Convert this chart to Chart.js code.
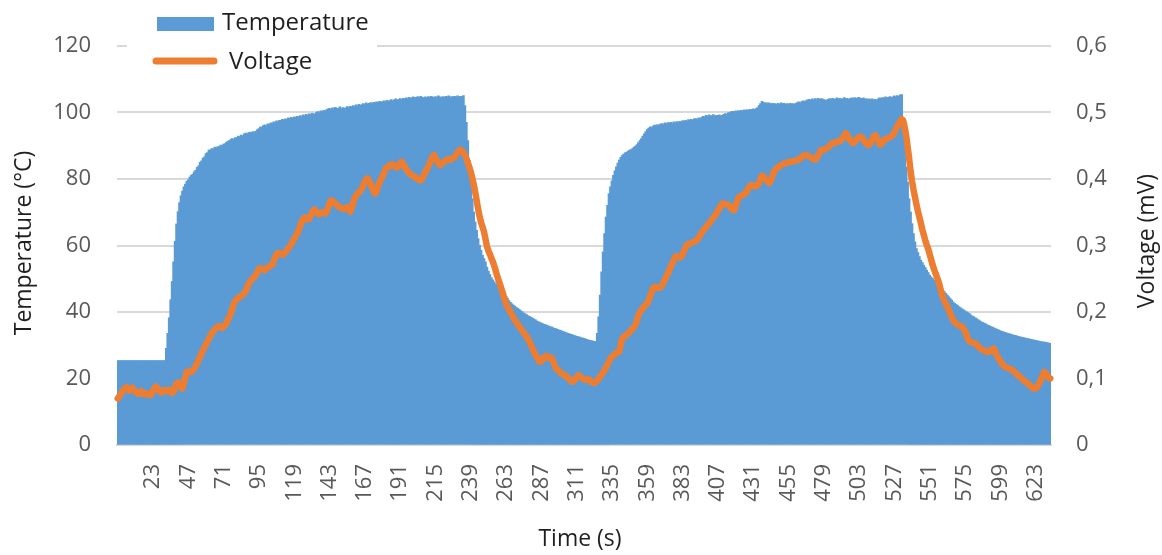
<!DOCTYPE html>
<html>
<head>
<meta charset="utf-8">
<title>Temperature and Voltage vs Time</title>
<script src="https://cdn.jsdelivr.net/npm/chart.js@4/dist/chart.umd.min.js"></script>
<style>
  html, body { margin: 0; padding: 0; background: #ffffff; }
  #wrap { width: 1162px; height: 555px; position: relative; }
</style>
</head>
<body>
<div id="wrap"><canvas id="chart" width="1162" height="555"></canvas></div>
<script>
// Temperature (°C), one reading per second
const temperature = [
  25.3,25.3,25.3,25.3,25.3,25.3,25.3,25.3,25.3,25.3,25.3,25.3,25.3,25.3,25.3,25.3,25.3,25.3,25.3,25.3,
  25.3,25.3,25.3,25.3,25.3,25.3,25.3,25.3,25.3,25.3,25.3,25.3,25.3,29.0,33.5,38.2,43.6,49.1,55.0,61.2,
  66.4,70.1,72.8,74.9,76.3,77.6,78.4,79.3,79.7,80.5,81.0,81.4,82.1,82.5,83.4,83.9,84.9,85.4,86.2,86.6,
  87.6,87.9,88.6,88.7,89.1,89.0,89.5,89.3,89.7,89.6,90.1,89.9,90.4,90.6,91.0,91.3,91.5,91.9,92.1,91.8,
  92.4,92.3,92.8,92.6,93.1,92.9,93.5,93.7,93.4,93.9,94.0,93.8,94.2,94.0,94.3,94.8,95.1,95.6,95.4,96.0,
  96.2,95.9,96.5,96.3,96.8,96.6,97.1,96.9,97.4,97.2,97.6,97.5,97.9,97.6,98.0,97.8,98.3,98.1,98.5,98.2,
  98.6,98.4,98.8,98.6,99.0,98.7,99.2,98.9,99.4,99.1,99.5,99.3,99.7,99.6,99.4,99.9,100.2,99.8,100.4,100.1,
  100.6,100.3,100.8,101.0,101.2,100.8,101.3,101.0,101.5,101.1,101.2,101.6,101.0,101.4,101.2,101.3,101.7,101.4,101.8,101.6,
  102.0,101.7,102.2,101.9,102.4,102.1,102.3,102.6,102.2,102.8,102.4,102.7,102.9,102.5,103.0,102.8,103.1,102.9,103.3,103.0,
  103.2,103.4,103.1,103.6,103.3,103.5,103.8,103.4,103.7,104.0,103.6,103.9,104.1,103.8,104.2,104.0,104.3,104.1,104.5,104.2,
  104.4,104.6,104.3,104.5,104.7,104.4,104.8,104.5,104.3,104.6,104.4,104.7,104.5,104.8,104.6,104.3,104.7,104.5,104.9,104.6,
  104.4,104.7,104.5,104.8,104.6,104.9,104.5,104.7,104.6,104.8,104.5,104.9,104.6,104.8,104.7,105.0,102.0,97.0,91.5,85.5,
  79.5,74.0,70.0,67.0,64.5,62.0,60.0,58.5,57.0,56.0,55.0,53.4,52.2,51.2,50.3,49.6,49.0,48.4,47.8,47.2,
  46.6,46.1,45.6,45.1,44.6,44.1,43.4,42.8,42.4,42.0,41.7,41.3,41.0,40.7,40.3,40.0,39.6,39.4,39.1,38.8,
  38.6,38.3,38.1,37.8,37.6,37.2,37.0,36.8,36.6,36.4,36.2,36.1,35.9,35.7,35.5,35.4,35.2,35.0,34.9,34.7,
  34.5,34.4,34.2,34.0,33.9,33.7,33.5,33.4,33.2,33.1,32.9,32.8,32.6,32.5,32.4,32.2,32.1,32.0,31.8,31.7,
  31.5,31.4,31.3,31.2,31.1,31.0,33.5,38.5,45.0,52.0,58.0,63.5,68.5,72.0,75.5,77.6,79.4,81.0,82.4,83.6,
  84.7,85.6,86.4,87.0,87.4,87.8,88.0,88.3,88.6,88.8,89.1,89.5,89.8,90.3,90.9,91.5,92.1,92.8,93.5,94.2,
  94.8,95.2,95.6,95.4,95.8,96.1,95.9,96.3,96.0,96.4,96.6,96.3,96.8,96.5,96.9,96.7,97.0,96.6,97.1,96.8,
  97.2,96.9,97.3,97.0,97.5,97.2,97.6,97.3,97.8,97.5,97.9,97.6,98.0,98.1,97.8,98.3,98.0,98.5,98.8,98.6,
  99.1,98.8,99.2,98.9,99.0,99.3,98.8,99.1,99.0,99.2,98.9,99.1,99.4,99.6,99.3,99.8,99.9,100.1,100.3,100.0,
  100.4,100.2,100.5,100.3,100.6,100.4,100.7,100.5,100.8,100.6,100.9,100.7,101.0,100.8,101.1,101.4,102.0,102.6,103.3,103.0,
  102.6,102.9,102.5,102.8,102.4,102.7,102.5,102.6,102.3,102.7,102.4,102.8,102.5,102.7,102.4,102.6,102.3,102.7,102.5,102.6,
  102.4,102.7,102.9,103.1,102.8,103.2,103.4,103.1,103.5,103.7,103.9,103.6,104.0,103.7,104.1,103.8,104.2,103.9,104.1,104.0,
  103.8,103.6,103.7,103.9,104.1,103.8,104.2,103.9,104.0,104.3,104.0,104.2,103.9,104.1,104.4,104.0,104.2,103.8,104.1,104.3,
  104.0,104.4,104.1,104.3,104.5,104.2,104.0,104.3,103.9,104.1,103.8,104.0,103.7,104.0,103.6,103.9,103.6,104.0,104.3,104.1,
  104.4,104.2,104.6,104.3,104.5,104.7,104.4,104.6,104.9,104.6,105.0,104.8,105.2,105.3,95.5,90.0,83.5,79.0,74.0,70.0,
  66.5,63.5,61.0,59.0,57.8,56.6,55.5,54.8,54.0,53.3,52.5,51.8,51.0,50.5,50.0,49.5,49.0,48.5,48.0,47.5,
  47.0,46.5,46.0,45.5,45.0,44.5,44.0,43.5,42.9,42.5,42.2,41.9,41.5,41.2,40.9,40.6,40.3,40.0,39.7,39.5,
  39.0,38.7,38.5,38.2,37.9,37.6,37.3,37.0,36.8,36.6,36.4,36.1,35.9,35.7,35.5,35.3,35.1,34.9,34.7,34.5,
  34.3,34.1,34.0,33.8,33.7,33.5,33.4,33.3,33.1,33.0,32.9,32.8,32.6,32.5,32.4,32.3,32.2,32.1,32.0,31.9,
  31.8,31.7,31.6,31.5,31.4,31.3,31.2,31.1,31.0,30.9,30.9,30.8,30.7,30.6,30.5
];

// Voltage (mV), one reading per second
const voltage = [
  0.070,0.073,0.076,0.080,0.083,0.086,0.087,0.085,0.082,0.084,0.086,0.083,0.080,0.078,0.077,0.079,0.081,0.078,0.076,0.078,
  0.077,0.076,0.075,0.077,0.082,0.086,0.088,0.085,0.082,0.080,0.079,0.081,0.083,0.081,0.082,0.083,0.080,0.078,0.080,0.087,
  0.093,0.094,0.090,0.087,0.085,0.094,0.103,0.110,0.109,0.111,0.110,0.112,0.115,0.119,0.123,0.128,0.133,0.139,0.142,0.147,
  0.151,0.156,0.160,0.164,0.168,0.171,0.174,0.176,0.178,0.179,0.177,0.176,0.178,0.180,0.184,0.189,0.193,0.199,0.206,0.213,
  0.217,0.219,0.221,0.223,0.224,0.226,0.228,0.232,0.237,0.242,0.246,0.248,0.251,0.253,0.256,0.260,0.265,0.266,0.265,0.264,
  0.263,0.265,0.267,0.268,0.270,0.271,0.276,0.282,0.287,0.289,0.288,0.287,0.286,0.288,0.290,0.293,0.296,0.299,0.302,0.306,
  0.310,0.314,0.318,0.323,0.329,0.335,0.340,0.342,0.341,0.339,0.340,0.344,0.349,0.353,0.354,0.351,0.348,0.347,0.349,0.350,
  0.349,0.348,0.351,0.357,0.363,0.368,0.367,0.365,0.363,0.361,0.359,0.357,0.356,0.356,0.355,0.357,0.358,0.355,0.351,0.356,
  0.364,0.371,0.375,0.378,0.380,0.382,0.386,0.391,0.396,0.400,0.401,0.397,0.392,0.386,0.381,0.378,0.382,0.389,0.395,0.400,
  0.404,0.409,0.415,0.417,0.419,0.421,0.420,0.422,0.420,0.418,0.417,0.420,0.424,0.426,0.423,0.419,0.415,0.412,0.409,0.407,
  0.406,0.404,0.403,0.402,0.400,0.398,0.398,0.401,0.405,0.410,0.414,0.418,0.423,0.429,0.434,0.436,0.432,0.428,0.424,0.421,
  0.422,0.424,0.426,0.428,0.429,0.430,0.429,0.430,0.431,0.433,0.437,0.440,0.443,0.444,0.442,0.440,0.436,0.431,0.425,0.418,
  0.411,0.402,0.392,0.381,0.368,0.355,0.344,0.335,0.328,0.321,0.310,0.299,0.292,0.287,0.281,0.276,0.269,0.262,0.254,0.247,
  0.241,0.234,0.227,0.219,0.212,0.208,0.204,0.200,0.196,0.191,0.188,0.185,0.181,0.178,0.175,0.172,0.169,0.166,0.163,0.160,
  0.155,0.150,0.145,0.140,0.136,0.132,0.128,0.125,0.126,0.129,0.132,0.134,0.133,0.131,0.132,0.131,0.126,0.120,0.115,0.113,
  0.111,0.109,0.107,0.106,0.105,0.103,0.101,0.099,0.097,0.095,0.096,0.099,0.102,0.105,0.104,0.102,0.100,0.099,0.098,0.098,
  0.099,0.097,0.095,0.094,0.093,0.095,0.097,0.100,0.103,0.106,0.109,0.113,0.117,0.121,0.126,0.130,0.133,0.135,0.137,0.138,
  0.139,0.141,0.152,0.160,0.162,0.164,0.166,0.168,0.170,0.172,0.175,0.178,0.181,0.188,0.195,0.200,0.203,0.206,0.208,0.211,
  0.213,0.218,0.224,0.230,0.236,0.238,0.237,0.236,0.236,0.237,0.240,0.244,0.249,0.254,0.258,0.263,0.268,0.273,0.278,0.283,
  0.284,0.283,0.282,0.283,0.287,0.292,0.297,0.301,0.302,0.303,0.304,0.305,0.306,0.307,0.309,0.312,0.316,0.320,0.322,0.325,
  0.328,0.331,0.333,0.336,0.339,0.342,0.345,0.348,0.352,0.356,0.360,0.363,0.363,0.362,0.362,0.361,0.359,0.356,0.354,0.353,
  0.359,0.366,0.372,0.374,0.375,0.376,0.377,0.379,0.383,0.387,0.390,0.391,0.390,0.389,0.389,0.391,0.395,0.400,0.405,0.404,
  0.401,0.398,0.396,0.394,0.398,0.404,0.410,0.414,0.416,0.418,0.419,0.421,0.422,0.423,0.424,0.425,0.425,0.426,0.426,0.427,
  0.427,0.428,0.429,0.429,0.431,0.433,0.435,0.436,0.436,0.435,0.434,0.433,0.431,0.430,0.429,0.431,0.435,0.439,0.443,0.444,
  0.444,0.445,0.446,0.448,0.450,0.452,0.454,0.455,0.455,0.456,0.456,0.457,0.459,0.462,0.466,0.469,0.466,0.462,0.458,0.455,
  0.454,0.456,0.459,0.461,0.463,0.464,0.462,0.459,0.456,0.453,0.451,0.452,0.455,0.460,0.464,0.466,0.463,0.458,0.452,0.452,
  0.455,0.458,0.460,0.461,0.462,0.463,0.464,0.466,0.470,0.475,0.480,0.483,0.487,0.490,0.488,0.478,0.466,0.449,0.432,0.412,
  0.397,0.384,0.373,0.362,0.352,0.343,0.334,0.324,0.316,0.308,0.301,0.295,0.287,0.279,0.271,0.264,0.258,0.252,0.246,0.238,
  0.229,0.222,0.217,0.212,0.208,0.203,0.198,0.192,0.188,0.185,0.183,0.181,0.180,0.179,0.178,0.175,0.171,0.166,0.160,0.156,
  0.155,0.154,0.153,0.153,0.151,0.149,0.146,0.144,0.143,0.142,0.141,0.140,0.140,0.141,0.143,0.145,0.144,0.138,0.133,0.130,
  0.126,0.123,0.120,0.118,0.117,0.116,0.115,0.114,0.113,0.111,0.109,0.107,0.105,0.103,0.101,0.099,0.097,0.095,0.094,0.092,
  0.090,0.088,0.086,0.085,0.085,0.087,0.091,0.095,0.100,0.105,0.110,0.108,0.104,0.101,0.100
];

// Time stamps (s) of the readings; the log starts one second before t = 0
const seconds = temperature.map((_, i) => i - 1);

// Labelled time ticks on the x axis
const timeTickLabels = [23, 47, 71, 95, 119, 143, 167, 191, 215, 239, 263, 287, 311,
  335, 359, 383, 407, 431, 455, 479, 503, 527, 551, 575, 599, 623];

// Left axis (°C) and right axis (mV) tick values and their printed labels
const temperatureTicks = [0, 20, 40, 60, 80, 100, 120];
const voltageTicks = [0, 0.1, 0.2, 0.3, 0.4, 0.5, 0.6];
const voltageTickLabels = ['0', '0,1', '0,2', '0,3', '0,4', '0,5', '0,6'];

const BLUE = '#5B9BD5';
const ORANGE = '#ED7D31';
const TICK_GREY = '#595959';
const GRID_GREY = '#D9D9D9';
const TEXT_DARK = '#1F1F1F';
const FONT = '"Open Sans", "Noto Sans", sans-serif';

// Legend and axis titles drawn on top of the chart
const annotations = {
  id: 'annotations',
  afterDraw(chart) {
    const ctx = chart.ctx;
    ctx.save();
    // legend panel
    ctx.fillStyle = '#ffffff';
    ctx.fillRect(127, 0, 250, 80);
    ctx.fillStyle = BLUE;
    ctx.fillRect(157, 17, 57, 14);
    ctx.strokeStyle = ORANGE;
    ctx.lineWidth = 7;
    ctx.lineCap = 'round';
    ctx.beginPath();
    ctx.moveTo(156, 61);
    ctx.lineTo(214, 61);
    ctx.stroke();
    ctx.fillStyle = TEXT_DARK;
    ctx.font = '24px ' + FONT;
    ctx.textAlign = 'left';
    ctx.textBaseline = 'alphabetic';
    ctx.fillText('Temperature', 222, 30);
    ctx.fillText('Voltage', 229, 69);

    // axis titles
    ctx.textAlign = 'center';
    ctx.textBaseline = 'middle';
    ctx.font = '23px ' + FONT;
    ctx.fillText('Time (s)', 580, 539);

    ctx.save();
    ctx.translate(24, 243);
    ctx.rotate(-Math.PI / 2);
    ctx.fillText('Temperature (°C)', 0, 0);
    ctx.restore();

    ctx.save();
    ctx.translate(1147, 241);
    ctx.rotate(-Math.PI / 2);
    ctx.fillText('Voltage (mV)', 0, 0);
    ctx.restore();

    ctx.restore();
  }
};

new Chart(document.getElementById('chart'), {
  data: {
    labels: seconds,
    datasets: [
      {
        type: 'line',
        label: 'Voltage',
        data: voltage,
        yAxisID: 'yV',
        borderColor: ORANGE,
        borderWidth: 6.5,
        borderJoinStyle: 'round',
        borderCapStyle: 'round',
        pointRadius: 0,
        tension: 0,
        order: 0
      },
      {
        type: 'bar',
        label: 'Temperature',
        data: temperature,
        yAxisID: 'yT',
        backgroundColor: BLUE,
        borderWidth: 0,
        barPercentage: 1,
        categoryPercentage: 1,
        inflateAmount: 0.6,
        order: 1
      }
    ]
  },
  options: {
    responsive: false,
    animation: false,
    devicePixelRatio: 1,
    layout: { padding: { top: 46, left: 0, right: 0, bottom: 0 } },
    plugins: {
      legend: { display: false },
      tooltip: { enabled: false }
    },
    scales: {
      x: {
        type: 'category',
        offset: true,
        grid: { display: false, drawTicks: false },
        border: { display: true, color: GRID_GREY, width: 2 },
        ticks: {
          autoSkip: false,
          minRotation: 90,
          maxRotation: 90,
          padding: 19,
          color: TICK_GREY,
          font: { family: FONT, size: 22 },
          callback(value, index) {
            const t = seconds[index];
            return timeTickLabels.includes(t) ? String(t) : '';
          }
        },
        afterFit(scale) { scale.height = 110; }
      },
      yT: {
        type: 'linear',
        position: 'left',
        min: 0,
        max: 120,
        afterBuildTicks(scale) { scale.ticks = temperatureTicks.map(v => ({ value: v })); },
        grid: { color: GRID_GREY, lineWidth: 2, drawTicks: false },
        border: { display: false },
        ticks: {
          padding: 26,
          color: TICK_GREY,
          font: { family: FONT, size: 22 },
          callback(value) { return String(value); }
        },
        afterFit(scale) { scale.width = 117; }
      },
      yV: {
        type: 'linear',
        position: 'right',
        min: 0,
        max: 0.6,
        afterBuildTicks(scale) { scale.ticks = voltageTicks.map(v => ({ value: v })); },
        grid: { display: false, drawTicks: false },
        border: { display: false },
        ticks: {
          padding: 25,
          color: TICK_GREY,
          font: { family: FONT, size: 22 },
          callback(value) {
            const k = voltageTicks.findIndex(v => Math.abs(v - value) < 1e-9);
            return k >= 0 ? voltageTickLabels[k] : '';
          }
        },
        afterFit(scale) { scale.width = 111; }
      }
    }
  },
  plugins: [annotations]
});
</script>
</body>
</html>
